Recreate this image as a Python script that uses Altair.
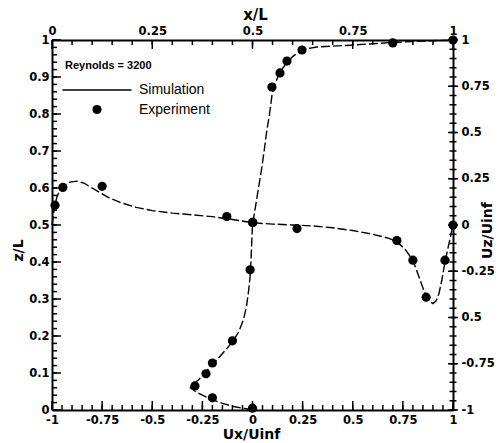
import json
import altair as alt
import pandas as pd

# ---- Ux/Uinf along the vertical centre line (vs z/L) ----
sim_z = [0, 0.004, 0.01, 0.018, 0.028, 0.04, 0.05, 0.06, 0.07, 0.081,
         0.095, 0.117, 0.14, 0.162, 0.184, 0.21, 0.244, 0.28, 0.32, 0.36,
         0.4, 0.45, 0.5, 0.55, 0.6, 0.65, 0.7, 0.75, 0.8, 0.85,
         0.88, 0.91, 0.935, 0.955, 0.967, 0.975, 0.981, 0.986, 0.99, 0.994,
         0.997, 1.0]
sim_ux = [0, -0.04, -0.1, -0.15, -0.2, -0.25, -0.285, -0.31, -0.3, -0.27,
          -0.245, -0.21, -0.17, -0.135, -0.1, -0.07, -0.045, -0.03, -0.02, -0.012,
          -0.008, -0.004, 0.0, 0.015, 0.03, 0.045, 0.058, 0.07, 0.085, 0.097,
          0.11, 0.135, 0.165, 0.2, 0.23, 0.26, 0.32, 0.49, 0.6, 0.72,
          0.85, 1.0]
exp_z = [0.005, 0.033, 0.065, 0.098, 0.127, 0.187, 0.379, 0.507, 0.873, 0.911, 0.943, 0.973, 0.992, 1.0]
exp_ux = [0.0, -0.20, -0.287, -0.232, -0.20, -0.10, -0.012, 0.0, 0.097, 0.137, 0.172, 0.247, 0.70, 1.0]

# ---- Uz/Uinf along the horizontal centre line (vs x/L) ----
sim_x = [0, 0.005, 0.012, 0.02, 0.03, 0.045, 0.062, 0.08, 0.1, 0.12,
         0.14, 0.17, 0.21, 0.25, 0.3, 0.35, 0.4, 0.45, 0.5, 0.55,
         0.6, 0.65, 0.7, 0.75, 0.8, 0.84, 0.86, 0.88, 0.9, 0.915,
         0.93, 0.94, 0.95, 0.958, 0.965, 0.972, 0.98, 0.988, 0.994, 1.0]
sim_uz = [0, 0.08, 0.15, 0.19, 0.215, 0.232, 0.237, 0.226, 0.2, 0.175,
          0.15, 0.122, 0.095, 0.078, 0.064, 0.055, 0.045, 0.03, 0.012, 0.005,
          0.0, -0.005, -0.015, -0.03, -0.05, -0.072, -0.09, -0.13, -0.19, -0.28,
          -0.37, -0.41, -0.425, -0.41, -0.37, -0.3, -0.2, -0.12, -0.06, 0.0]
exp_x = [0.0075, 0.027, 0.125, 0.436, 0.501, 0.611, 0.86, 0.90, 0.933, 0.98, 1.0]
exp_uz = [0.107, 0.203, 0.209, 0.046, 0.014, -0.019, -0.084, -0.19, -0.39, -0.19, 0.0]

series_names = ["Simulation", "Experiment"]
reynolds_title = "Reynolds = 3200"

# ---- tick labels ----
bottom_ticks = [-1, -0.75, -0.5, -0.25, 0, 0.25, 0.5, 0.75, 1]
left_ticks = [0, 0.1, 0.2, 0.3, 0.4, 0.5, 0.6, 0.7, 0.8, 0.9, 1]
top_ticks = [0, 0.25, 0.5, 0.75, 1]
right_ticks = [-1, -0.75, -0.5, -0.25, 0, 0.25, 0.5, 0.75, 1]
right_text = ["-1", "-0.75", "0.5", "-0.25", "0", "0.25", "0.5", "0.75", "1"]

bottom_minor = [round(-1 + 0.05 * k, 2) for k in range(41)]
left_minor = [round(0.02 * k, 2) for k in range(51)]
top_minor = [round(0.05 * k, 2) for k in range(21)]
right_minor = [round(-1 + 0.05 * k, 2) for k in range(41)]

W, H = 401, 370
# thin filled bar used as the legend's line sample
LINE_SYMBOL = "M-7.5,-0.17H7.5V0.17H-7.5Z"

sx_ux = alt.Scale(domain=[-1, 1], nice=False, zero=False)
sy_z = alt.Scale(domain=[0, 1], nice=False, zero=False)
sx_x = alt.Scale(domain=[0, 1], nice=False, zero=False)
sy_uz = alt.Scale(domain=[-1, 1], nice=False, zero=False)

shape_scale = alt.Scale(domain=series_names, range=[LINE_SYMBOL, "circle"])
legend = alt.Legend(orient="none", legendX=13, legendY=20, direction="vertical",
                    title=reynolds_title, titleFont="Liberation Sans", titleFontSize=11,
                    titleFontWeight="bold", titleColor="black", titlePadding=12,
                    labelFont="Liberation Sans", labelFontSize=14, labelColor="black",
                    labelOffset=35, symbolOffset=25, symbolSize=85,
                    symbolFillColor="black", rowPadding=4.5, padding=0)

axis_bottom = alt.Axis(orient="bottom", values=bottom_ticks, labelExpr="toString(datum.value)",
                       ticks=False, domainWidth=2, labelPadding=4, labelFlush=False,
                       labelOverlap=False, title="Ux/Uinf", titleX=199, titleY=24,
                       titleAlign="center", titleBaseline="middle", grid=False)
axis_left = alt.Axis(orient="left", values=left_ticks, labelExpr="toString(datum.value)",
                     ticks=False, domainWidth=2, labelPadding=3, labelFlush=False,
                     labelOverlap=False, title="z/L", titleX=-34, titleY=210, titleAngle=270,
                     titleAlign="center", titleBaseline="middle", grid=False)
axis_top = alt.Axis(orient="top", values=top_ticks, labelExpr="toString(datum.value)",
                    ticks=False, domainWidth=2, labelPadding=4, labelFlush=False,
                    labelOverlap=False, title="x/L", titleX=203, titleY=-26, titleFontSize=15,
                    titleAlign="center", titleBaseline="middle", grid=False)
rv = json.dumps(right_ticks)
rt = json.dumps(right_text)
axis_right = alt.Axis(orient="right", values=right_ticks,
                      labelExpr=f"indexof({rv}, datum.value) >= 0 ? {rt}[indexof({rv}, datum.value)] : ''",
                      ticks=False, domainWidth=2,
                      labelPadding=8, labelFlush=False, labelOverlap=False,
                      title="Uz/Uinf", titleX=34, titleY=190, titleAngle=270,
                      titleAlign="center", titleBaseline="middle", grid=False)

df_ux_sim = pd.DataFrame({"ux": sim_ux, "z": sim_z, "i": range(len(sim_z))})
df_ux_exp = pd.DataFrame({"ux": exp_ux, "z": exp_z, "kind": series_names[1]})
df_uz_sim = pd.DataFrame({"x": sim_x, "uz": sim_uz, "i": range(len(sim_x))})
df_uz_exp = pd.DataFrame({"x": exp_x, "uz": exp_uz, "kind": series_names[1]})

line_style = dict(color="black", strokeWidth=1.4, strokeDash=[9, 3])
pt_style = dict(filled=True, color="black", size=85, opacity=1)


# inward tick marks, positioned along each edge through that edge's scale/axis
def xticks(values, scale, axis, yval, length):
    return alt.Chart(pd.DataFrame({"v": values})).mark_tick(
        color="black", thickness=1.5, size=length, opacity=1, orient="vertical").encode(
        x=alt.X("v:Q", scale=scale, axis=axis),
        y=alt.value(yval))


def yticks(values, scale, axis, xval, length):
    return alt.Chart(pd.DataFrame({"v": values})).mark_tick(
        color="black", thickness=1.5, size=length, opacity=1, orient="horizontal").encode(
        y=alt.Y("v:Q", scale=scale, axis=axis),
        x=alt.value(xval))


line_a = alt.Chart(df_ux_sim).mark_line(**line_style).encode(
    x=alt.X("ux:Q", scale=sx_ux, axis=axis_bottom),
    y=alt.Y("z:Q", scale=sy_z, axis=axis_left),
    order="i:Q")
pts_a = alt.Chart(df_ux_exp).mark_point(**pt_style).encode(
    x=alt.X("ux:Q", scale=sx_ux, axis=axis_bottom),
    y=alt.Y("z:Q", scale=sy_z, axis=axis_left),
    shape=alt.Shape("kind:N", scale=shape_scale, legend=legend))
layer_a = alt.layer(
    line_a, pts_a,
    xticks(bottom_minor, sx_ux, axis_bottom, H - 2.5, 5),
    xticks(bottom_ticks, sx_ux, axis_bottom, H - 4.5, 9),
    yticks(left_minor, sy_z, axis_left, 2.5, 5),
    yticks(left_ticks, sy_z, axis_left, 4.5, 9),
)

line_b = alt.Chart(df_uz_sim).mark_line(**line_style).encode(
    x=alt.X("x:Q", scale=sx_x, axis=axis_top),
    y=alt.Y("uz:Q", scale=sy_uz, axis=axis_right),
    order="i:Q")
pts_b = alt.Chart(df_uz_exp).mark_point(**pt_style).encode(
    x=alt.X("x:Q", scale=sx_x, axis=axis_top),
    y=alt.Y("uz:Q", scale=sy_uz, axis=axis_right),
    shape=alt.Shape("kind:N", scale=shape_scale, legend=legend))
layer_b = alt.layer(
    line_b, pts_b,
    xticks(top_minor, sx_x, axis_top, 2.5, 5),
    xticks(top_ticks, sx_x, axis_top, 4.5, 9),
    yticks(right_minor, sy_uz, axis_right, W, 7),
    yticks(right_ticks, sy_uz, axis_right, W, 10),
)

chart = alt.layer(
    layer_a, layer_b
).resolve_scale(
    x="independent", y="independent"
).properties(
    width=W, height=H,
    autosize=alt.AutoSizeParams(type="none"),
    padding={"left": 52, "top": 40, "right": 46, "bottom": 33},
    background="white",
).configure_view(
    stroke=None
).configure_axis(
    labelFont="DejaVu Sans", labelFontWeight="bold", labelFontSize=11.5, labelColor="black",
    titleFont="DejaVu Sans", titleFontWeight="bold", titleFontSize=14, titleColor="black",
    domainColor="black", tickColor="black"
)

chart.save("out.html", embed_options={"renderer": "svg", "actions": False})
